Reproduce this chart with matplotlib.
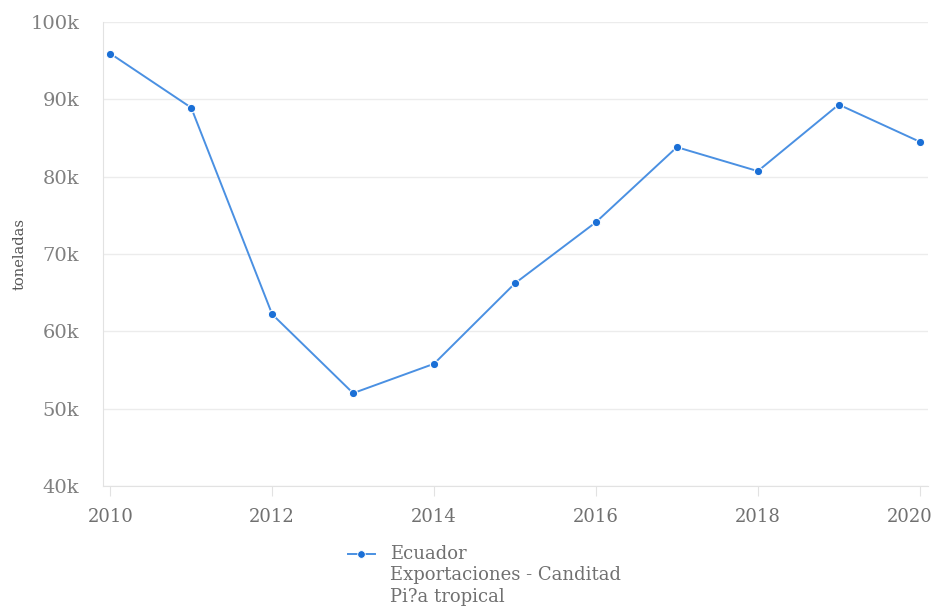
import matplotlib
matplotlib.use("Agg")
import matplotlib.pyplot as plt
import matplotlib.transforms as mtransforms
from matplotlib.ticker import FuncFormatter

# datos
years = [2010, 2011, 2012, 2013, 2014, 2015, 2016, 2017, 2018, 2019, 2020]
toneladas = [95900, 88900, 62200, 52000, 55800, 66200, 74100, 83800, 80700, 89300, 84500]
legend_lines = ["Ecuador", "Exportaciones - Canditad", "Pi?a tropical"]

plt.rcParams['font.family'] = ['DejaVu Serif']

fig = plt.figure(figsize=(9.32, 6.06), dpi=100)
ax = fig.add_axes([0.1105, 0.198, 0.885, 0.766])

line_col = '#4a90e2'
mark_col = '#1a6fd6'
ax.plot(years, toneladas, color=line_col, lw=1.4, zorder=3)
ax.plot(years, toneladas, 'o', color=mark_col, ms=6, mec='white', mew=0.8, zorder=4)

ax.set_xlim(2009.91, 2020.1)
ax.set_ylim(40000, 100000)
ax.set_xticks(range(2010, 2021, 2))
ax.set_yticks(range(40000, 100001, 10000))
ax.yaxis.set_major_formatter(FuncFormatter(lambda v, p: f"{int(v/1000)}k"))

ax.grid(axis='y', color='#ececec', lw=1)
ax.set_axisbelow(True)
for s in ['top', 'right']:
    ax.spines[s].set_visible(False)
ax.spines['left'].set_color('#e2e2e2')
ax.spines['bottom'].set_color('#e2e2e2')
ax.tick_params(axis='y', length=0, pad=17, labelsize=14, labelcolor='#808080')
ax.tick_params(axis='x', length=7, color='#e2e2e2', pad=9, labelsize=13, labelcolor='#707070')

# la ultima etiqueta se corre a la izquierda para que quepa
fig.canvas.draw()
last = ax.get_xticklabels()[-1]
last.set_transform(last.get_transform() + mtransforms.ScaledTranslation(-10/100, 0, fig.dpi_scale_trans))

ax.set_ylabel('toneladas', fontsize=10.5, color='#555555')
ax.yaxis.set_label_coords(-0.093, 0.5)

# leyenda manual debajo del grafico
fig.lines.append(plt.Line2D([0.373, 0.402], [0.085, 0.085], transform=fig.transFigure,
                            color=line_col, lw=1.4))
fig.lines.append(plt.Line2D([0.3875], [0.085], transform=fig.transFigure, marker='o',
                            color=mark_col, ms=5.5, mec='white', mew=0.6))
fig.text(0.418, 0.101, "\n".join(legend_lines), fontsize=13, color='#707070',
         va='top', ha='left', linespacing=1.25)

fig.savefig('out.png', dpi=100, facecolor='white')
